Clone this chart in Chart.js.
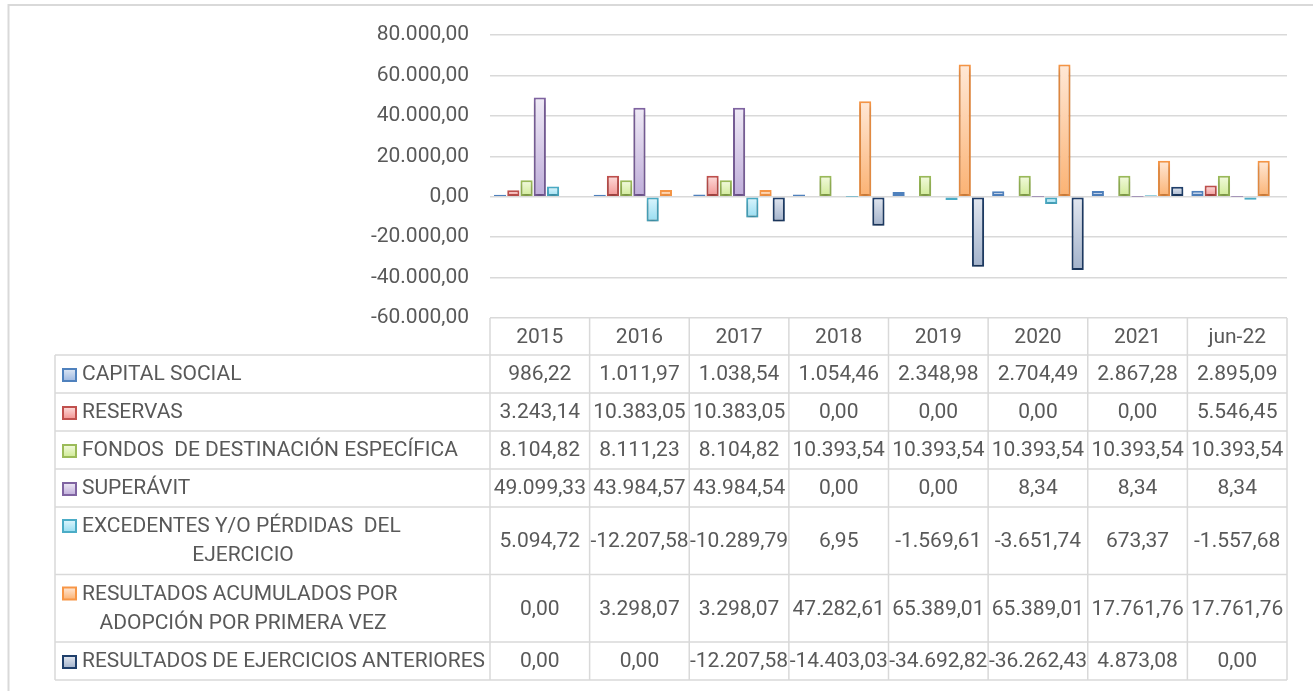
<!DOCTYPE html>
<html>
<head>
<meta charset="utf-8">
<script src="https://cdn.jsdelivr.net/npm/chart.js@4/dist/chart.umd.min.js"></script>
<style>
  html, body { margin: 0; padding: 0; background: #fff; }
  canvas { display: block; }
</style>
</head>
<body>
<canvas id="patrimonioChart" width="1313" height="691"></canvas>
<script>
const categories = ['2015', '2016', '2017', '2018', '2019', '2020', '2021', 'jun-22'];
const capitalSocial = [986.22, 1011.97, 1038.54, 1054.46, 2348.98, 2704.49, 2867.28, 2895.09];
const reservas = [3243.14, 10383.05, 10383.05, 0, 0, 0, 0, 5546.45];
const fondosDestinacion = [8104.82, 8111.23, 8104.82, 10393.54, 10393.54, 10393.54, 10393.54, 10393.54];
const superavit = [49099.33, 43984.57, 43984.54, 0, 0, 8.34, 8.34, 8.34];
const excedentesPerdidas = [5094.72, -12207.58, -10289.79, 6.95, -1569.61, -3651.74, 673.37, -1557.68];
const resultadosAdopcion = [0, 3298.07, 3298.07, 47282.61, 65389.01, 65389.01, 17761.76, 17761.76];
const resultadosAnteriores = [0, 0, -12207.58, -14403.03, -34692.82, -36262.43, 4873.08, 0];
const yTicks = [-60000, -40000, -20000, 0, 20000, 40000, 60000, 80000];

// series labels, as wrapped in the data table
const seriesLabels = [
  ['CAPITAL SOCIAL'],
  ['RESERVAS'],
  ['FONDOS  DE DESTINACIÓN ESPECÍFICA'],
  ['SUPERÁVIT'],
  ['EXCEDENTES Y/O PÉRDIDAS  DEL', 'EJERCICIO'],
  ['RESULTADOS ACUMULADOS POR', 'ADOPCIÓN POR PRIMERA VEZ'],
  ['RESULTADOS DE EJERCICIOS ANTERIORES']
];

// border, light (top) and dark (bottom) gradient colours per series
const palette = [
  { border: '#4F81BD', light: '#DCE6F4', dark: '#9DB8E0' },
  { border: '#C0504D', light: '#FDDCDB', dark: '#F29391' },
  { border: '#9BBB59', light: '#F3FADF', dark: '#CFEA95' },
  { border: '#8064A2', light: '#EFEAF6', dark: '#BFADDA' },
  { border: '#4BACC6', light: '#DEF6FD', dark: '#97DDF1' },
  { border: '#F79646', light: '#FFE8D6', dark: '#FBB273' },
  { border: '#1F3F6B', light: '#E2E7F0', dark: '#A2B2CB' }
];

const seriesValues = [capitalSocial, reservas, fondosDestinacion, superavit,
  excedentesPerdidas, resultadosAdopcion, resultadosAnteriores];

const FONT = 'Roboto';
const TEXT = '#595959';
const LINE = '#D9D9D9';

// 1.234,56 style numbers
function fmt(v) {
  const neg = v < 0;
  let [i, d] = Math.abs(v).toFixed(2).split('.');
  i = i.replace(/\B(?=(\d{3})+(?!\d))/g, '.');
  return (neg ? '-' : '') + i + ',' + d;
}

function barFill(idx) {
  const c = palette[idx];
  return (context) => {
    const chart = context.chart;
    if (!chart.chartArea || context.dataIndex === undefined) return c.dark;
    const v = seriesValues[idx][context.dataIndex];
    const y = chart.scales.y;
    const top = y.getPixelForValue(Math.max(v, 0));
    const bot = y.getPixelForValue(Math.min(v, 0));
    if (bot - top < 2) return c.dark;
    const g = chart.ctx.createLinearGradient(0, top, 0, bot);
    g.addColorStop(0, c.light);
    g.addColorStop(1, c.dark);
    return g;
  };
}

// soft shadow under the bars
const shadowPlugin = {
  id: 'barShadow',
  beforeDatasetsDraw(chart) {
    const ctx = chart.ctx;
    ctx.save();
    ctx.shadowColor = 'rgba(0,0,0,0.28)';
    ctx.shadowBlur = 5;
    ctx.shadowOffsetY = 3;
  },
  afterDatasetsDraw(chart) {
    chart.ctx.restore();
  }
};

// data table below the plot + outer frame
const tablePlugin = {
  id: 'dataTable',
  afterDraw(chart) {
    const ctx = chart.ctx;
    const area = chart.chartArea;
    const xs = chart.scales.x;
    const colW = (area.right - area.left) / categories.length;
    const tableLeft = 55;
    const headerTop = area.bottom;
    const headerBottom = 355;
    const rowHeights = seriesLabels.map(l => l.length > 1 ? 67.5 : 38);

    ctx.save();

    // outer chart frame
    ctx.strokeStyle = LINE;
    ctx.lineWidth = 2;
    ctx.beginPath();
    ctx.moveTo(8.5, 691);
    ctx.lineTo(8.5, 5);
    ctx.lineTo(1313, 5);
    ctx.stroke();

    // grid lines of the table
    ctx.lineWidth = 1.5;
    ctx.strokeStyle = LINE;
    let y = headerBottom;
    const rowTops = [];
    rowHeights.forEach(h => { rowTops.push(y); y += h; });
    const tableBottom = y;

    ctx.beginPath();
    [headerBottom, ...rowTops.slice(1), tableBottom].forEach(yy => {
      ctx.moveTo(tableLeft, yy);
      ctx.lineTo(area.right, yy);
    });
    for (let i = 0; i <= categories.length; i++) {
      const x = area.left + i * colW;
      ctx.moveTo(x, headerTop);
      ctx.lineTo(x, tableBottom);
    }
    ctx.moveTo(tableLeft, headerBottom);
    ctx.lineTo(tableLeft, tableBottom);
    ctx.stroke();

    ctx.font = '21px ' + FONT;
    ctx.fillStyle = TEXT;
    ctx.textBaseline = 'middle';

    // header: categories
    ctx.textAlign = 'center';
    categories.forEach((c, i) => {
      ctx.fillText(c, xs.getPixelForValue(i), (headerTop + headerBottom) / 2 + 1);
    });

    // rows
    seriesLabels.forEach((lines, r) => {
      const top = rowTops[r];
      const h = rowHeights[r];
      const mid = top + h / 2 + 1;
      const c = palette[r];

      // legend key
      const ky = lines.length > 1 ? top + 19 : mid;
      const g = ctx.createLinearGradient(0, ky - 6, 0, ky + 6);
      g.addColorStop(0, c.light);
      g.addColorStop(1, c.dark);
      ctx.fillStyle = g;
      ctx.fillRect(63, ky - 6, 13, 12);
      ctx.strokeStyle = c.border;
      ctx.lineWidth = 2;
      ctx.strokeRect(63, ky - 6, 13, 12);

      ctx.fillStyle = TEXT;
      if (lines.length === 1) {
        ctx.textAlign = 'left';
        ctx.fillText(lines[0], 82, mid, 403);
      } else {
        ctx.textAlign = 'left';
        ctx.fillText(lines[0], 82, top + 20, 403);
        ctx.textAlign = 'center';
        ctx.fillText(lines[1], 243, top + 49);
      }

      ctx.textAlign = 'center';
      seriesValues[r].forEach((v, i) => {
        ctx.fillText(fmt(v), xs.getPixelForValue(i), mid);
      });
    });

    ctx.restore();
  }
};

const datasets = seriesLabels.map((lines, i) => ({
  label: lines.join(' '),
  data: seriesValues[i],
  backgroundColor: barFill(i),
  borderColor: palette[i].border,
  borderWidth: 2,
  borderSkipped: false,
  categoryPercentage: 0.93,
  barPercentage: 0.92
}));

new Chart(document.getElementById('patrimonioChart'), {
  type: 'bar',
  data: { labels: categories, datasets },
  options: {
    responsive: false,
    devicePixelRatio: 1,
    animation: false,
    layout: { padding: { left: 0, top: 35, right: 26, bottom: 373 } },
    plugins: {
      legend: { display: false },
      tooltip: { enabled: false }
    },
    scales: {
      x: { display: false },
      y: {
        min: yTicks[0],
        max: yTicks[yTicks.length - 1],
        afterFit: (scale) => { scale.width = 490; },
        afterBuildTicks: (scale) => { scale.ticks = yTicks.map(v => ({ value: v })); },
        border: { display: false },
        grid: { color: LINE, lineWidth: 1.5, drawTicks: false },
        ticks: {
          color: TEXT,
          padding: 21,
          font: { family: FONT, size: 21 },
          callback: (v) => fmt(v)
        }
      }
    }
  },
  plugins: [shadowPlugin, tablePlugin]
});
</script>
</body>
</html>
